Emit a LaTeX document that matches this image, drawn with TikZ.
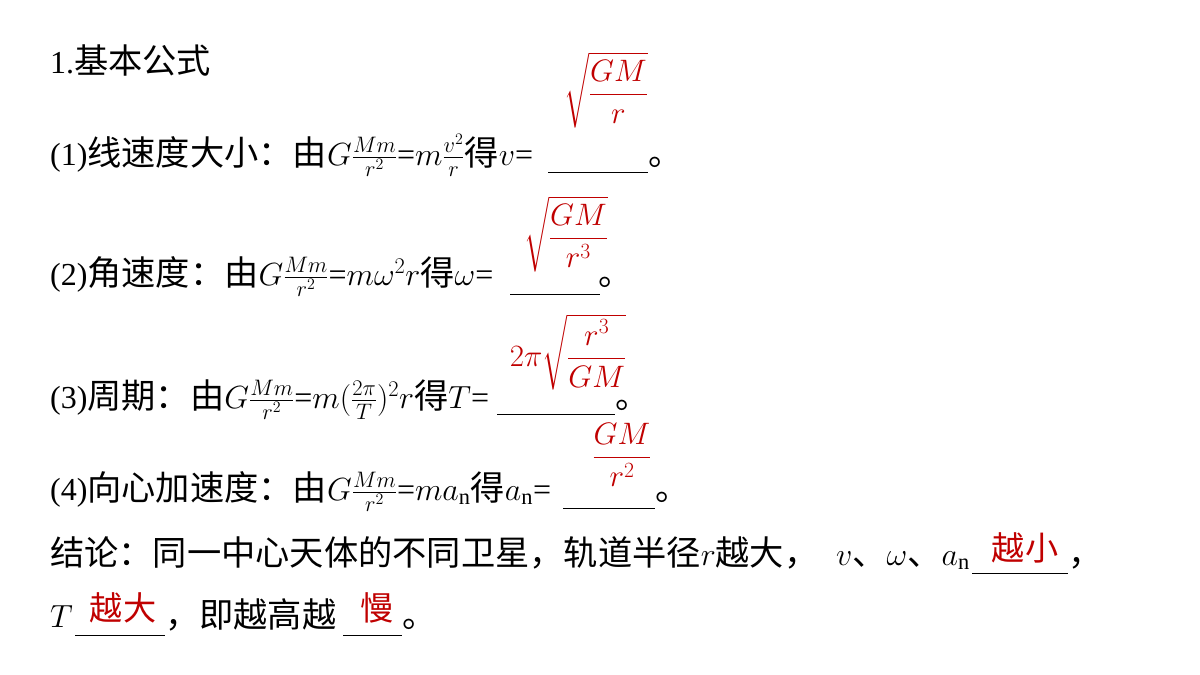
\RequirePackage{fix-cm}
\documentclass[tikz,border=0pt]{standalone}
\usepackage{amsmath}
\usepackage{fontspec}
\setmainfont{Liberation Serif}
\newfontfamily\zhf[Scale=1.07]{Noto Sans CJK SC}
\newcommand{\zh}[1]{{\zhf #1}}
\definecolor{ans}{RGB}{192,0,0}
\begin{document}
\begin{tikzpicture}[x=1pt,y=-1pt,
  txt/.style={anchor=base west,inner sep=0pt,font=\fontsize{32}{36}\selectfont},
  red/.style={inner sep=0pt,text=ans,font=\fontsize{31}{36}\selectfont},
  ul/.style={line width=1pt}]
\useasboundingbox[fill=white] (0,0) rectangle (1200,675);
\node[txt] (t0) at (50,73) {1.\zh{基本公式}};
% (1)
\node[txt] (a1) at (50,165) {(1)\zh{线速度大小：由}$G\frac{Mm}{r^2}$=$m\frac{v^2}{r}$\zh{得}$v$=};
\coordinate (u1a) at (548,172); \coordinate (u1b) at (648,172);
\draw[ul] (u1a) -- (u1b);
\node[txt] (p1) at (648,165) {\zh{。}};
\node[red] (r1) at (606,90) {$\sqrt{\dfrac{GM}{r}}$};
% (2)
\node[txt] (a2) at (50,285) {(2)\zh{角速度：由}$G\frac{Mm}{r^2}$=$m\omega^2r$\zh{得}$\omega$=};
\coordinate (u2a) at (510,294); \coordinate (u2b) at (600,294);
\draw[ul] (u2a) -- (u2b);
\node[txt] (p2) at (598,285) {\zh{。}};
\node[red] (r2) at (566,234) {$\sqrt{\dfrac{GM}{r^3}}$};
% (3)
\node[txt] (a3) at (50,408) {(3)\zh{周期：由}$G\frac{Mm}{r^2}$=$m(\frac{2\pi}{T})^2r$\zh{得}$T$=};
\coordinate (u3a) at (497,414); \coordinate (u3b) at (615,414);
\draw[ul] (u3a) -- (u3b);
\node[txt] (p3) at (615,408) {\zh{。}};
\node[red] (r3) at (568,352) {$2\pi\sqrt{\dfrac{r^3}{GM}}$};
% (4)
\node[txt] (a4) at (50,500) {(4)\zh{向心加速度：由}$G\frac{Mm}{r^2}$=$ma_{\mathrm{n}}$\zh{得}$a_{\mathrm{n}}$=};
\coordinate (u4a) at (563,508); \coordinate (u4b) at (655,508);
\draw[ul] (u4a) -- (u4b);
\node[txt] (p4) at (655,500) {\zh{。}};
\node[red] (r4) at (622,455) {$\dfrac{GM}{r^2}$};
% conclusion
\node[txt] (c1) at (50,565) {\zh{结论：同一中心天体的不同卫星，轨道半径}$r$\zh{越大，}};
\node[txt] (c1b) at (836,565) {$v$\zh{、}$\omega$\zh{、}$a_{\mathrm{n}}$};
\coordinate (u5a) at (972,573); \coordinate (u5b) at (1068,573);
\draw[ul] (u5a) -- (u5b);
\node[txt] (p5) at (1068,565) {\zh{，}};
\node[red] (r5) at (1025,548) {\zh{越小}};
\node[txt] (c2) at (50,627) {$T$};
\coordinate (u6a) at (75,635); \coordinate (u6b) at (165,635);
\draw[ul] (u6a) -- (u6b);
\node[red] (r6) at (123,608) {\zh{越大}};
\node[txt] (c3) at (165,627) {\zh{，即越高越}};
\coordinate (u7a) at (343,635); \coordinate (u7b) at (402,635);
\draw[ul] (u7a) -- (u7b);
\node[red] (r7) at (377,608) {\zh{慢}};
\node[txt] (p7) at (402,627) {\zh{。}};
\end{tikzpicture}
\end{document}
